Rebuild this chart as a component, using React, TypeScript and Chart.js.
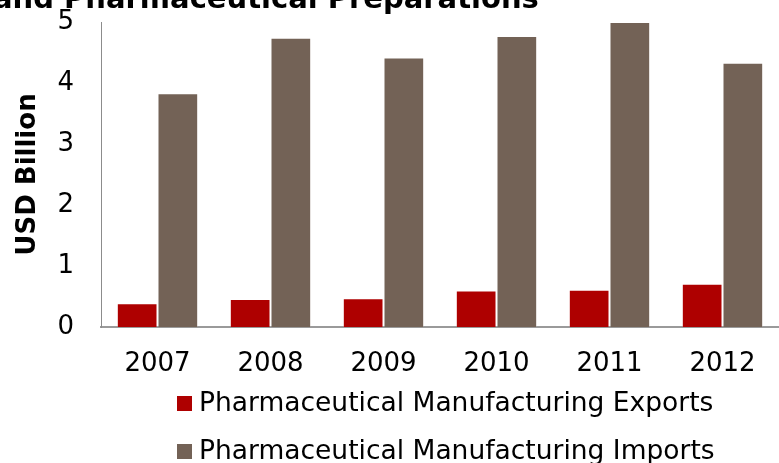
import React, { useEffect, useRef } from "react";
import { Chart, registerables } from "chart.js";

Chart.register(...registerables);

const categories = ["2007", "2008", "2009", "2010", "2011", "2012"];
const exportsValues = [0.39, 0.46, 0.47, 0.6, 0.61, 0.71];
const importsValues = [3.83, 4.74, 4.42, 4.77, 5.0, 4.33];
const seriesLabels = [
  "Pharmaceutical Manufacturing Exports",
  "Pharmaceutical Manufacturing Imports",
];
const seriesColors = ["#ae0000", "#736256"];
const yTicks = [0, 1, 2, 3, 4, 5];
const titleText = "and Pharmaceutical Preparations";
const yAxisTitle = "USD Billion";

const FONT = "'DejaVu Sans', Verdana, sans-serif";

const overlayPlugin = {
  id: "overlay",
  afterDraw(chart: any) {
    const ctx = chart.ctx;
    ctx.save();
    // clipped title at the very top
    ctx.font = `bold 29px ${FONT}`;
    ctx.fillStyle = "#000";
    ctx.textAlign = "left";
    ctx.textBaseline = "alphabetic";
    ctx.fillText(titleText, -7, 8);
    // legend
    ctx.font = `26.5px ${FONT}`;
    ctx.textBaseline = "middle";
    const rows = [403, 451];
    chart.data.datasets.forEach((ds: any, i: number) => {
      const y = rows[i];
      ctx.fillStyle = ds.backgroundColor;
      ctx.fillRect(177, y - 7, 15, 15);
      ctx.fillStyle = "#000";
      ctx.fillText(ds.label, 199, y + 1);
    });
    ctx.restore();
  },
};

export default function App() {
  const ref = useRef<HTMLCanvasElement | null>(null);
  useEffect(() => {
    document.body.style.margin = "0";
    document.body.style.overflow = "hidden";
    const chart = new Chart(ref.current as HTMLCanvasElement, {
      type: "bar",
      data: {
        labels: categories,
        datasets: [
          {
            label: seriesLabels[0],
            data: exportsValues,
            backgroundColor: seriesColors[0],
            borderColor: "rgba(255,255,255,0.15)",
            borderWidth: 1,
            barPercentage: 1,
            categoryPercentage: 0.72,
          },
          {
            label: seriesLabels[1],
            data: importsValues,
            backgroundColor: seriesColors[1],
            borderColor: "rgba(255,255,255,0.15)",
            borderWidth: 1,
            barPercentage: 1,
            categoryPercentage: 0.72,
          },
        ],
      },
      options: {
        animation: false,
        responsive: true,
        maintainAspectRatio: false,
        layout: { padding: { top: 22, right: 0, bottom: 0, left: 0 } },
        plugins: {
          legend: { display: false },
          tooltip: { enabled: false },
          title: { display: false },
        },
        scales: {
          x: {
            grid: { display: false, drawTicks: false },
            border: { display: true, color: "#9a9a9a", width: 2 },
            ticks: {
              color: "#000",
              font: { family: FONT, size: 26 },
              padding: 22,
              maxRotation: 0,
            },
            afterFit(scale: any) {
              scale.height = 136;
            },
          },
          y: {
            min: 0,
            max: 5,
            afterBuildTicks(scale: any) {
              scale.ticks = yTicks.map((v) => ({ value: v }));
            },
            grid: { display: false, drawTicks: false },
            border: { display: true, color: "#8c8c8c", width: 1 },
            ticks: {
              color: "#000",
              font: { family: FONT, size: 26 },
              padding: 27,
            },
            title: {
              display: true,
              text: yAxisTitle,
              color: "#000",
              font: { family: FONT, size: 26, weight: "bold" },
              padding: { top: 13, bottom: 0 },
            },
            afterFit(scale: any) {
              scale.width = 101;
              scale.paddingTop = 0;
              scale.paddingBottom = 0;
            },
          },
        },
      },
      plugins: [overlayPlugin],
    });
    return () => chart.destroy();
  }, []);
  return (
    <div style={{ position: "fixed", left: 0, top: 0, width: 779, height: 463 }}>
      <canvas ref={ref} />
    </div>
  );
}
